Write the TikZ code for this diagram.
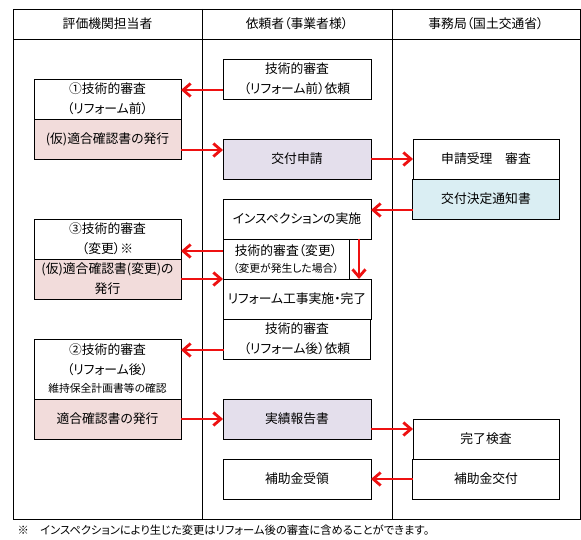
\documentclass[tikz,border=0pt]{standalone}
\usepackage{fontspec}
\setmainfont{Noto Sans CJK JP}[RawFeature=+palt]
\usepackage{xcolor}
\usepackage{tikz}
\usetikzlibrary{positioning,arrows.meta}
\definecolor{pinkfill}{HTML}{F2DCDB}
\definecolor{lavfill}{HTML}{E4DFEC}
\definecolor{bluefill}{HTML}{DAEEF3}
\definecolor{arrowred}{HTML}{EE1111}

\begin{document}
\begin{tikzpicture}[x=1pt, y=-1pt, line width=0.8pt,
    box/.style={rectangle, draw=black, fill=white, minimum width=147pt, minimum height=40pt, inner sep=1pt, outer sep=0pt, align=center, font=\fontsize{12.8}{20}\selectfont},
    issue/.style={box, fill=pinkfill},
    apply/.style={box, fill=lavfill},
    notice/.style={box, fill=bluefill},
    head/.style={font=\fontsize{12.8}{14}\selectfont},
    flow/.style={-{Straight Barb[length=7.5pt, width=13pt]}, line width=2.8pt, arrowred}]
    \useasboundingbox (0,0) rectangle (581,540);
    % lanes
    \draw (13,9) rectangle (580,519);
    \draw (13,39) -- (580,39);
    \draw (202,9) -- (202,519);
    \draw (392,9) -- (392,519);
    \node[head] (h1) at (107.5,24) {評価機関担当者};
    \node[head] (h2) at (297,24) {依頼者（事業者様）};
    \node[head] (h3) at (486,24) {事務局（国土交通省）};
    % evaluator
    \node[box, anchor=north west] (rev1) at (34,79) {①技術的審査\\（リフォーム前）};
    \node[issue, below=0pt of rev1] (iss1) {(仮)適合確認書の発行};
    \node[box, anchor=north west] (rev3) at (34,219) {③技術的審査\\（変更）※};
    \node[issue, below=0pt of rev3] (iss3) {(仮)適合確認書(変更)の\\発行};
    \node[box, anchor=north west, minimum height=60pt] (rev2) at (34,339) {②技術的審査\\（リフォーム後）\\[-2pt]{\fontsize{10.8}{14}\selectfont 維持保全計画書等の確認}};
    \node[issue, below=0pt of rev2] (iss2) {適合確認書の発行};
    % applicant
    \node[box, anchor=north west, minimum width=148pt] (req1) at (223,59) {技術的審査\\（リフォーム前）依頼};
    \node[apply, anchor=north west, minimum width=148pt] (app) at (223,139) {交付申請};
    \node[box, anchor=north west, minimum width=148pt] (insp) at (223,199) {インスペクションの実施};
    \node[box, anchor=north west, minimum width=126pt] (chg) at (223,239) {技術的審査（変更）\\[-3pt]{\fontsize{10.8}{14}\selectfont （変更が発生した場合）}};
    \node[box, anchor=north west, minimum width=148pt] (work) at (223,279) {リフォーム工事実施・完了};
    \node[box, below=0pt of work] (req2) {技術的審査\\（リフォーム後）依頼};
    \node[apply, anchor=north west, minimum width=148pt] (rep) at (223,399) {実績報告書};
    \node[box, anchor=north west, minimum width=148pt] (recv) at (223,459) {補助金受領};
    % office
    \node[box, anchor=north west, minimum width=146pt] (acc) at (413,139) {申請受理　審査};
    \node[notice, below=0pt of acc] (dec) {交付決定通知書};
    \node[box, anchor=north west, minimum width=146pt] (fin) at (413,419) {完了検査};
    \node[box, below=0pt of fin] (pay) {補助金交付};
    % flows
    \draw[flow] (req1.west |- 0,90) -- (rev1.east |- 0,90);
    \draw[flow] (iss1.east |- 0,150) -- (app.west |- 0,150);
    \draw[flow] (app.east) -- (acc.west);
    \draw[flow] (dec.west |- 0,210) -- (insp.east |- 0,210);
    \draw[flow] (chg.west |- 0,251) -- (rev3.east |- 0,251);
    \draw[flow] (iss3.east) -- (iss3.east -| work.west);
    \draw[flow] (insp.south -| 359,0) -- (work.north -| 359,0);
    \draw[flow] (req2.west |- 0,350) -- (rev2.east |- 0,350);
    \draw[flow] (iss2.east) -- (rep.west);
    \draw[flow] (rep.east |- 0,429) -- (fin.west |- 0,429);
    \draw[flow] (pay.west) -- (recv.east);
    \node[anchor=west, font=\fontsize{11.3}{12}\selectfont] (note) at (14,530) {※　インスペクションにより生じた変更はリフォーム後の審査に含めることができます。};
\end{tikzpicture}
\end{document}
